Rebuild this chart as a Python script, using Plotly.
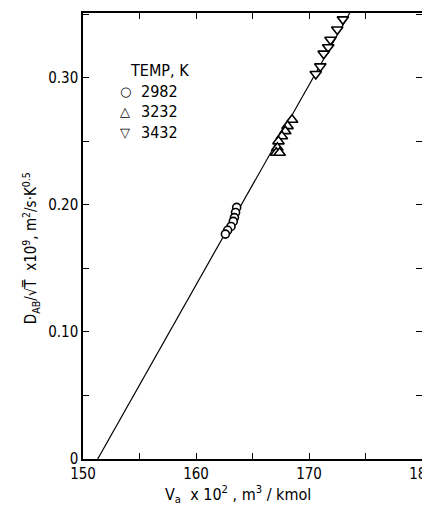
import plotly.graph_objects as go

# Data
circ_v = [163.6, 163.5, 163.4, 163.3, 163.1, 162.8, 162.6]
circ_d = [0.198, 0.194, 0.190, 0.187, 0.183, 0.180, 0.177]

up_v = [168.5, 168.1, 167.9, 167.6, 167.3, 167.2, 167.1, 167.4]
up_d = [0.267, 0.262, 0.258, 0.254, 0.250, 0.245, 0.241, 0.241]

down_v = [173.0, 172.5, 171.9, 171.7, 171.3, 171.0, 170.6]
down_d = [0.346, 0.338, 0.330, 0.324, 0.319, 0.309, 0.303]

fit_v = [151.3, 175.0]
fit_d = [0.0, 0.373]

x_ticks = [150, 160, 170, 180]
x_ticklabels = ["150", "160", "170", "180"]
y_ticks = [0, 0.10, 0.20, 0.30]
y_ticklabels = ["0", "0.10", "0.20", "0.30"]

x_title = "V<sub>a</sub>  x 10<sup>2</sup> , m<sup>3</sup> / kmol"
y_title = "D<sub>AB</sub>/√T\u0305  x10<sup>9</sup>, m<sup>2</sup>/s·K<sup>0.5</sup>"

legend_title = "TEMP, K"
legend_symbols = ["○", "△", "▽"]
legend_labels = ["2982", "3232", "3432"]

FONT = "DejaVu Sans Condensed, Liberation Sans Narrow, Arial Narrow, sans-serif"

fig = go.Figure()
fig.add_trace(go.Scatter(x=fit_v, y=fit_d, mode="lines",
                         line=dict(color="black", width=1.2),
                         showlegend=False, hoverinfo="skip"))
mk = dict(color="white", line=dict(color="black", width=1.6))
fig.add_trace(go.Scatter(x=circ_v, y=circ_d, mode="markers", name=legend_labels[0],
                         showlegend=False, marker=dict(symbol="circle", size=8, **mk)))
fig.add_trace(go.Scatter(x=up_v, y=up_d, mode="markers", name=legend_labels[1],
                         showlegend=False, marker=dict(symbol="triangle-up", size=10, **mk)))
fig.add_trace(go.Scatter(x=down_v, y=down_d, mode="markers", name=legend_labels[2],
                         showlegend=False, marker=dict(symbol="triangle-down", size=10, **mk)))

axis_common = dict(showline=True, linecolor="black", linewidth=1.5, mirror="allticks",
                   ticks="inside", ticklen=6, tickcolor="black", tickwidth=1,
                   showgrid=False, zeroline=False, automargin=False,
                   tickfont=dict(family=FONT, size=15, color="black"),
                   minor=dict(ticks="inside", ticklen=6, tickcolor="black", showgrid=False))

fig.update_xaxes(range=[150, 180], tickmode="array", tickvals=x_ticks, ticktext=x_ticklabels,
                 minor_dtick=5, ticklabeloverflow="allow",
                 **axis_common)
fig.update_yaxes(range=[0, 0.351], tickmode="array", tickvals=y_ticks, ticktext=y_ticklabels,
                 minor_dtick=0.05,
                 **axis_common)

# axis titles as annotations for exact placement
fig.add_annotation(text=x_title, x=0.457, y=-0.079, xref="paper", yref="paper",
                   xanchor="center", yanchor="middle", showarrow=False,
                   font=dict(family=FONT, size=16, color="black"))
fig.add_annotation(text=y_title, x=-0.156, y=0.473, xref="paper", yref="paper",
                   xanchor="center", yanchor="middle", showarrow=False, textangle=-90,
                   font=dict(family=FONT, size=15, color="black"))

# legend drawn as text, positioned in plot-fraction coordinates
leg_x_sym = 0.125
leg_x_txt = 0.164
leg_y = [0.825, 0.779, 0.733]
fig.add_annotation(text=legend_title, x=0.133, y=0.872, xref="paper", yref="paper",
                   xanchor="left", yanchor="middle", showarrow=False,
                   font=dict(family=FONT, size=16, color="black"))
for sym, lab, yy in zip(legend_symbols, legend_labels, leg_y):
    fig.add_annotation(text=sym, x=leg_x_sym, y=yy, xref="paper", yref="paper",
                       xanchor="center", yanchor="middle", showarrow=False,
                       font=dict(family="DejaVu Sans", size=13, color="black"))
    fig.add_annotation(text=lab, x=leg_x_txt, y=yy, xref="paper", yref="paper",
                       xanchor="left", yanchor="middle", showarrow=False,
                       font=dict(family=FONT, size=16, color="black"))

fig.update_layout(
    width=422, height=497,
    margin=dict(l=75, r=8, t=5, b=46, autoexpand=False),
    plot_bgcolor="white", paper_bgcolor="white",
    font=dict(family=FONT, color="black", size=14),
    showlegend=False,
)

fig.write_html("out.html")
